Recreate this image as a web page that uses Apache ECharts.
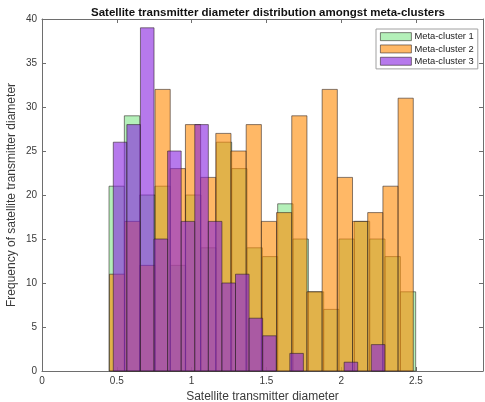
<!DOCTYPE html>
<html>
<head>
<meta charset="utf-8">
<script src="https://cdn.jsdelivr.net/npm/echarts@6/dist/echarts.min.js"></script>
<style>
html,body{margin:0;padding:0;background:#fff;}
#chart{width:485px;height:402px;}
</style>
</head>
<body>
<div id="chart"></div>
<script>
// ---- Data ----
var seriesNames = ['Meta-cluster 1', 'Meta-cluster 2', 'Meta-cluster 3'];
// histogram bin ranges [first edge, last edge], 20 bins each
var binRange1 = [0.448, 2.498];
var binRange2 = [0.451, 2.482];
var binRange3 = [0.4766, 2.292];
var numBins = 20;
var counts1 = [21, 29, 20, 21, 12, 20, 14, 26, 23, 14, 13, 19, 15, 9, 7, 15, 17, 15, 13, 9];
var counts2 = [11, 17, 12, 32, 23, 28, 22, 27, 25, 28, 17, 18, 29, 9, 32, 22, 17, 18, 21, 31];
var counts3 = [26, 28, 39, 15, 25, 17, 28, 17, 10, 11, 6, 4, 0, 2, 0, 0, 0, 1, 0, 3];
var xTicks = [0, 0.5, 1, 1.5, 2, 2.5];
var yTicks = [0, 5, 10, 15, 20, 25, 30, 35, 40];

var faceColors = ['rgba(130,230,138,0.6)', 'rgba(255,137,0,0.6)', 'rgba(133,32,223,0.6)'];
var edgeColor = 'rgba(40,30,30,0.7)';

function buildBins(range, counts) {
  var w = (range[1] - range[0]) / numBins;
  var out = [];
  for (var i = 0; i < counts.length; i++) {
    out.push([range[0] + i * w, range[0] + (i + 1) * w, counts[i]]);
  }
  return out;
}

function makeRender(fill) {
  return function (params, api) {
    var c = api.value(2);
    if (!c) return null;
    var p0 = api.coord([api.value(0), c]);
    var p1 = api.coord([api.value(1), 0]);
    return {
      type: 'rect',
      shape: { x: p0[0], y: p0[1], width: p1[0] - p0[0], height: p1[1] - p0[1] },
      style: { fill: fill, stroke: edgeColor, lineWidth: 0.8 }
    };
  };
}

var allBins = [buildBins(binRange1, counts1), buildBins(binRange2, counts2), buildBins(binRange3, counts3)];

var axisCol = '#6e6e6e';
var labelCol = '#3a3a3a';
var fontFam = 'Liberation Sans, Arial, Helvetica, sans-serif';

var chart = echarts.init(document.getElementById('chart'), null, { renderer: 'canvas' });

var option = {
  backgroundColor: '#ffffff',
  animation: false,
  title: {
    text: 'Satellite transmitter diameter distribution amongst meta-clusters',
    left: 263, textAlign: 'center', top: 2,
    textStyle: { fontSize: 11.5, fontWeight: 'bold', color: '#111', fontFamily: fontFam }
  },
  legend: {
    orient: 'vertical', left: 376, top: 29,
    itemWidth: 31, itemHeight: 8, itemGap: 1,
    padding: [2, 4, 2, 4],
    borderColor: '#a0a0a0', borderWidth: 1, backgroundColor: '#fff',
    textStyle: { fontSize: 9.4, color: '#222', fontFamily: fontFam, padding: [0, 0, 0, -2], lineHeight: 11.3 },
    data: seriesNames.map(function (n, i) {
      return { name: n, icon: 'rect', itemStyle: { color: faceColors[i], borderColor: edgeColor, borderWidth: 0.8 } };
    })
  },
  grid: { left: 42, right: 2, top: 19, bottom: 31, containLabel: false, outerBoundsMode: 'none' },
  xAxis: [{
    type: 'value', min: 0, max: 2.948, interval: 0.5,
    name: 'Satellite transmitter diameter', nameLocation: 'middle', nameGap: 20, nameMoveOverlap: false,
    nameTextStyle: { fontSize: 12, color: labelCol, fontFamily: fontFam },
    axisLine: { show: true, lineStyle: { color: axisCol, width: 1 } },
    axisTick: { show: true, inside: true, length: 4, lineStyle: { color: axisCol } },
    axisLabel: { fontSize: 10, color: labelCol, margin: 5, fontFamily: fontFam,
      customValues: xTicks, formatter: function (v) { return String(v); } },
    splitLine: { show: false }
  }, {
    type: 'value', position: 'top', min: 0, max: 2.948, interval: 0.5,
    axisLine: { show: true, onZero: false, lineStyle: { color: axisCol, width: 1 } },
    axisTick: { show: true, inside: true, length: 4, lineStyle: { color: axisCol } },
    axisLabel: { show: false }, splitLine: { show: false }
  }],
  yAxis: [{
    type: 'value', min: 0, max: 40, interval: 5,
    name: 'Frequency of satellite transmitter diameter', nameLocation: 'middle', nameGap: 24, nameMoveOverlap: false,
    nameTextStyle: { fontSize: 12, color: labelCol, fontFamily: fontFam },
    axisLine: { show: true, lineStyle: { color: axisCol, width: 1 } },
    axisTick: { show: true, inside: true, length: 4, lineStyle: { color: axisCol } },
    axisLabel: { fontSize: 10, color: labelCol, margin: 5, fontFamily: fontFam, customValues: yTicks },
    splitLine: { show: false }
  }, {
    type: 'value', position: 'right', min: 0, max: 40, interval: 5,
    axisLine: { show: true, onZero: false, lineStyle: { color: axisCol, width: 1 } },
    axisTick: { show: true, inside: true, length: 4, lineStyle: { color: axisCol } },
    axisLabel: { show: false }, splitLine: { show: false }
  }],
  series: allBins.map(function (bins, i) {
    return {
      type: 'custom', name: seriesNames[i],
      xAxisIndex: 0, yAxisIndex: 0,
      renderItem: makeRender(faceColors[i]),
      itemStyle: { color: faceColors[i] },
      encode: { x: [0, 1], y: 2 },
      data: bins
    };
  })
};
chart.setOption(option);
</script>
</body>
</html>
